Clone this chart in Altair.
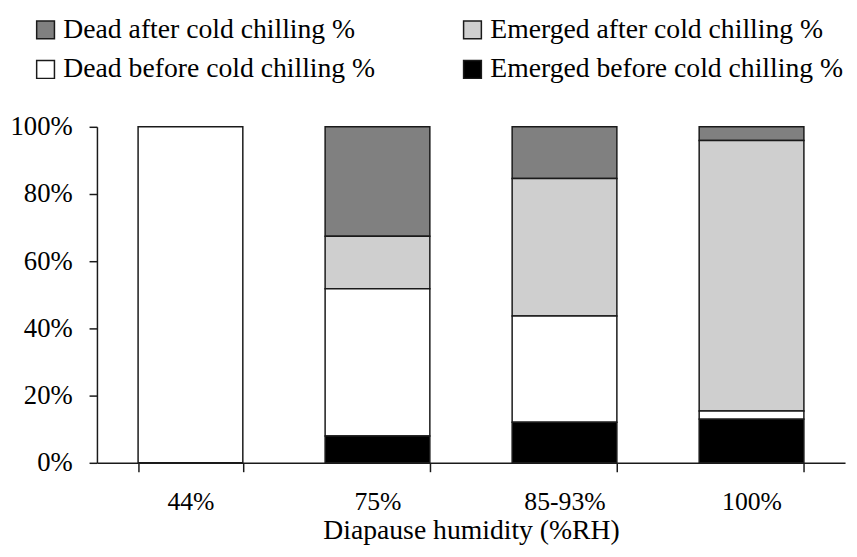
import altair as alt
import pandas as pd

categories = ["44%", "75%", "85-93%", "100%"]
emerged_before = [0, 8.0, 12.1, 13.0]
dead_before = [100, 43.8, 31.6, 2.4]
emerged_after = [0, 15.6, 40.9, 80.5]
dead_after = [0, 32.6, 15.4, 4.1]

series_names = [
    "Dead after cold chilling %",
    "Emerged after cold chilling %",
    "Dead before cold chilling %",
    "Emerged before cold chilling %",
]
series_colors = ["#808080", "#cfcfcf", "#ffffff", "#000000"]
stack_rank = {
    "Emerged before cold chilling %": 0,
    "Dead before cold chilling %": 1,
    "Emerged after cold chilling %": 2,
    "Dead after cold chilling %": 3,
}
series_values = {
    "Dead after cold chilling %": dead_after,
    "Emerged after cold chilling %": emerged_after,
    "Dead before cold chilling %": dead_before,
    "Emerged before cold chilling %": emerged_before,
}

rows = []
for name, vals in series_values.items():
    for c, v in zip(categories, vals):
        if v > 0:
            rows.append({"cat": c, "series": name, "value": v, "rank": stack_rank[name]})
df = pd.DataFrame(rows)

FONT = "Liberation Serif"

chart = (
    alt.Chart(df)
    .mark_bar(stroke="#1a1a1a", strokeWidth=1.5)
    .encode(
        x=alt.X(
            "cat:N",
            sort=categories,
            scale=alt.Scale(paddingInner=0.44, paddingOuter=0.22),
            axis=alt.Axis(
                title="Diapause humidity (%RH)",
                labelAngle=0,
                tickBand="extent",
                tickSize=9,
                labelPadding=17,
                titlePadding=3,
            ),
        ),
        y=alt.Y(
            "value:Q",
            stack="zero",
            scale=alt.Scale(domain=[0, 100]),
            axis=alt.Axis(
                title=None,
                values=[0, 20, 40, 60, 80, 100],
                labelExpr="datum.value + '%'",
                tickSize=8,
                labelPadding=17,
                labelFontSize=27,
                grid=False,
            ),
        ),
        color=alt.Color(
            "series:N",
            scale=alt.Scale(domain=series_names, range=series_colors),
            legend=alt.Legend(
                title=None,
                orient="none",
                legendX=-66,
                legendY=-112,
                columns=2,
                columnPadding=84,
                rowPadding=12,
                symbolType="square",
                symbolSize=324,
                symbolStrokeColor="#1a1a1a",
                symbolStrokeWidth=1.5,
                symbolOpacity=1,
                labelFontSize=28,
                labelFont=FONT,
                labelColor="#000000",
                labelLimit=600,
                labelOffset=4,
                direction="horizontal",
            ),
        ),
        order=alt.Order("rank:Q", sort="ascending"),
    )
    .properties(
        width=757,
        height=340,
        autosize=alt.AutoSizeParams(type="none"),
        padding={"left": 90, "top": 117, "right": 4, "bottom": 84},
    )
    .configure_view(stroke=None)
    .configure_axis(
        labelFont=FONT,
        titleFont=FONT,
        labelFontSize=26,
        titleFontSize=28,
        labelColor="#000000",
        titleColor="#000000",
        titleFontWeight="normal",
        domainColor="#1a1a1a",
        tickColor="#1a1a1a",
        domainWidth=1.5,
        tickWidth=1.5,
    )
)

chart.save("out.html", embed_options={"renderer": "svg", "actions": False})
